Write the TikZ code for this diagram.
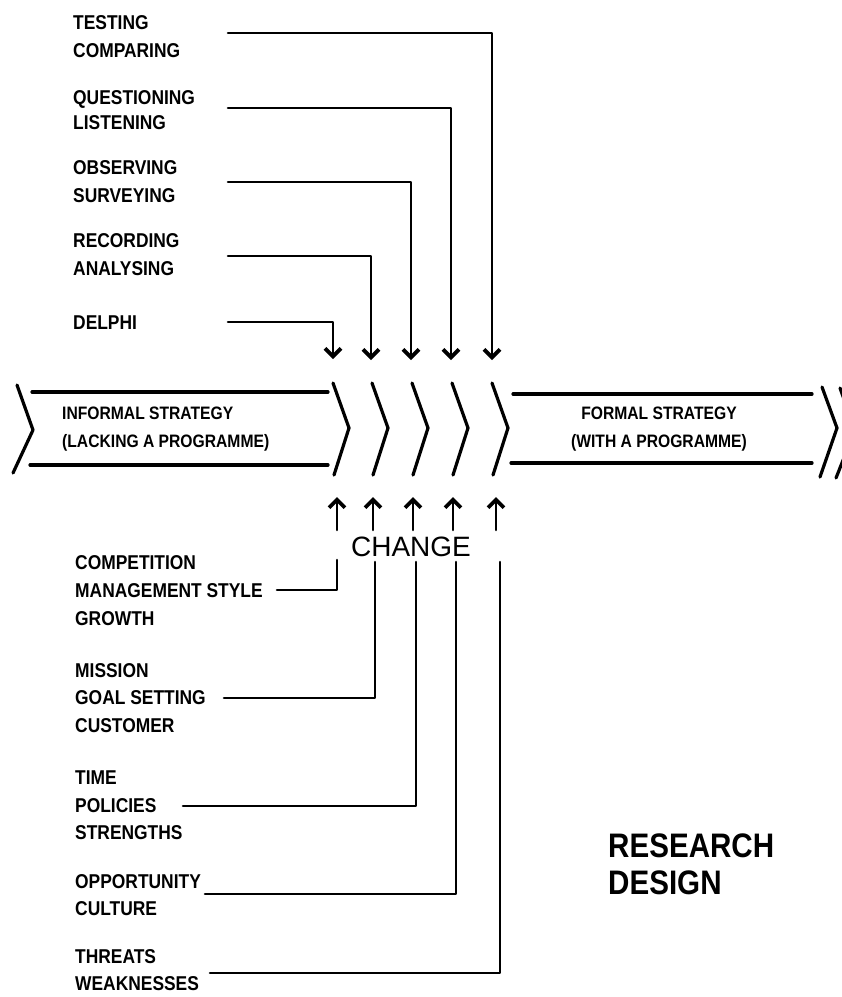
\documentclass[tikz,border=0pt]{standalone}
\usepackage{fontspec}
\usetikzlibrary{arrows.meta}
\newfontfamily\handfont[FakeStretch=0.87]{Liberation Sans}
\newfontfamily\plainfont{Liberation Sans}
\begin{document}
\begin{tikzpicture}[x=1pt,y=-1pt,
  lbl/.style={anchor=west,inner sep=0pt,text height=14.3pt,text depth=0pt,
    font=\handfont\bfseries\fontsize{20}{24}\selectfont},
  bandtxt/.style={inner sep=0pt,text height=12.9pt,text depth=0pt,
    font=\handfont\bfseries\fontsize{18}{22}\selectfont},
  titletxt/.style={anchor=west,inner sep=0pt,text height=24pt,text depth=0pt,
    font=\handfont\bfseries\fontsize{34}{38}\selectfont},
  conn/.style={line width=2.6pt,line join=round,line cap=round},
  tip/.style={conn,-{Straight Barb[length=8pt,width=16pt,line width=3.8pt]}},
  band/.style={line width=3.2pt,line join=round,line cap=round},
]
\fill[white] (0,0) rectangle (842,997);
\useasboundingbox (0,0) rectangle (842,997);

% ---------- research methods (top) ----------
\node[lbl] (testing)     at (73,22)  {TESTING};
\node[lbl] (comparing)   at (73,50)  {COMPARING};
\node[lbl] (questioning) at (73,97)  {QUESTIONING};
\node[lbl] (listening)   at (73,122) {LISTENING};
\node[lbl] (observing)   at (73,167) {OBSERVING};
\node[lbl] (surveying)   at (73,195) {SURVEYING};
\node[lbl] (recording)   at (73,240) {RECORDING};
\node[lbl] (analysing)   at (73,268) {ANALYSING};
\node[lbl] (delphi)      at (73,322) {DELPHI};

\coordinate (ts1) at (228,33);  \coordinate (td1) at (492,360);
\coordinate (ts2) at (228,108); \coordinate (td2) at (451,360);
\coordinate (ts3) at (228,182); \coordinate (td3) at (411,360);
\coordinate (ts4) at (228,256); \coordinate (td4) at (371,360);
\coordinate (ts5) at (228,322); \coordinate (td5) at (333,359);

\foreach \i in {1,...,5}{
  \draw[tip] (ts\i) -| (td\i);
}

% ---------- strategy band ----------
\draw[band] (17,385) -- (33,430) -- (13,473);
\draw[band] (32,392) -- (328,392);
\draw[band] (30,465) -- (328,465);
\foreach \x in {333,372,412,452,492}{
  \draw[band] (\x,383) -- ({\x+16},428) -- ({\x+1},475);
}
\draw[band] (513,394) -- (812,394);
\draw[band] (511,463) -- (812,463);
\draw[band] (822,387) -- (837,428) -- (820,477);
\draw[band] (840,388) -- (855,430) -- (836,478);

\node[bandtxt,anchor=west] (informal)  at (62,413) {INFORMAL STRATEGY};
\node[bandtxt,anchor=west] (lacking)   at (62,441) {(LACKING A PROGRAMME)};
\node[bandtxt]             (formal)    at (659,413) {FORMAL STRATEGY};
\node[bandtxt]             (withprog)  at (659,441) {(WITH A PROGRAMME)};

% ---------- change arrows ----------
\node[inner sep=0pt,text height=20pt,text depth=0pt,
      font=\plainfont\fontsize{28}{32}\selectfont] (change) at (411,546) {CHANGE};

\foreach \x [count=\i] in {337,373,413,453,496}{
  \coordinate (us\i) at (\x,530);
  \coordinate (ut\i) at (\x,497);
  \draw[tip] (us\i) -- (ut\i);
}

% ---------- driving factors (bottom) ----------
\node[lbl] (competition) at (75,562) {COMPETITION};
\node[lbl] (management)  at (75,590) {MANAGEMENT STYLE};
\node[lbl] (growth)      at (75,618) {GROWTH};
\node[lbl] (mission)     at (75,670) {MISSION};
\node[lbl] (goal)        at (75,697) {GOAL SETTING};
\node[lbl] (customer)    at (75,725) {CUSTOMER};
\node[lbl] (time)        at (75,777) {TIME};
\node[lbl] (policies)    at (75,805) {POLICIES};
\node[lbl] (strengths)   at (75,832) {STRENGTHS};
\node[lbl] (opportunity) at (75,881) {OPPORTUNITY};
\node[lbl] (culture)     at (75,908) {CULTURE};
\node[lbl] (threats)     at (75,956) {THREATS};
\node[lbl] (weaknesses)  at (75,983) {WEAKNESSES};

\coordinate (bs1) at (277,590); \coordinate (bv1) at (337,560);
\coordinate (bs2) at (224,698); \coordinate (bv2) at (375,562);
\coordinate (bs3) at (183,806); \coordinate (bv3) at (416,562);
\coordinate (bs4) at (205,894); \coordinate (bv4) at (456,562);
\coordinate (bs5) at (210,973); \coordinate (bv5) at (500,562);

\foreach \i in {1,...,5}{
  \draw[conn] (bs\i) -| (bv\i);
}

% ---------- title ----------
\node[titletxt] (research) at (608,845) {RESEARCH};
\node[titletxt] (design)   at (608,882) {DESIGN};
\end{tikzpicture}
\end{document}
